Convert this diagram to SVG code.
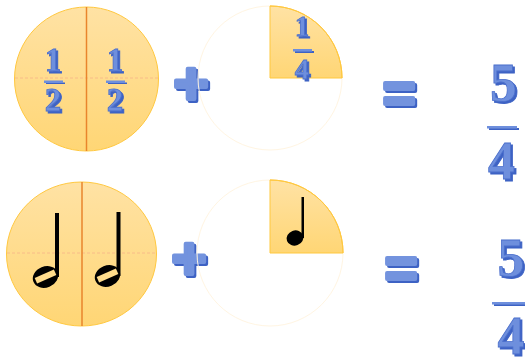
<svg xmlns="http://www.w3.org/2000/svg" width="525" height="360" viewBox="0 0 525 360">
<defs>
<linearGradient id="og" x1="0" y1="0" x2="0" y2="1">
<stop offset="0" stop-color="#FFE2A4"/>
<stop offset="1" stop-color="#FFD675"/>
</linearGradient>
<filter id="shadow" x="-20%" y="-20%" width="150%" height="150%">
<feOffset in="SourceAlpha" dx="1.8" dy="1.8" result="o"/>
<feFlood flood-color="#3D62C4"/>
<feComposite in2="o" operator="in" result="s"/>
<feMerge><feMergeNode in="s"/><feMergeNode in="SourceGraphic"/></feMerge>
</filter>
<style>
.disk{fill:url(#og);stroke:#FFC83F;stroke-width:1}
.faint{fill:none;stroke:#FFF5E2;stroke-width:1}
.vline{stroke:#E9852C;stroke-width:1.5}
.hline{stroke:#F6B489;stroke-width:0.8;stroke-dasharray:3 2}
.num{font-family:"Liberation Serif",serif;font-weight:bold;text-anchor:middle;fill:#6E8FDD;stroke:#4B6FCC;stroke-width:0.8;filter:url(#shadow)}
.op{font-family:"Liberation Sans",sans-serif;font-weight:bold;text-anchor:middle;fill:#7393DE;stroke:#7393DE;stroke-width:4;stroke-linejoin:round;filter:url(#shadow)}
.bar{fill:#6E8FDD;filter:url(#shadow)}
.ink{fill:#000}
</style>
</defs>
<rect width="525" height="360" fill="#fff"/>

<g id="half-circle-top">
<circle class="disk" cx="86.5" cy="79" r="72"/>
<line class="hline" x1="15" y1="78" x2="158" y2="78"/>
<line class="vline" x1="86.5" y1="7" x2="86.5" y2="151"/>
<text class="num" x="53" y="70.5" font-size="33">1</text>
<rect class="bar" x="44" y="80.5" width="19" height="2.5"/>
<text class="num" x="53" y="110.5" font-size="33">2</text>
<text class="num" x="115" y="70.5" font-size="33">1</text>
<rect class="bar" x="106" y="80.5" width="19" height="2.5"/>
<text class="num" x="115" y="110.5" font-size="33">2</text>
</g>

<g id="plus-top">
<text class="op" x="191" y="104" font-size="60">+</text>
</g>

<g id="quarter-top">
<circle class="faint" cx="270" cy="78" r="72"/>
<path class="disk" d="M270,78 L270,6 A72,72 0 0 1 342,78 Z" stroke="none"/>
<path d="M270,6 A72,72 0 0 1 342,78" fill="none" stroke="#FFC83F" stroke-width="1"/>
<text class="num" x="302" y="36" font-size="29">1</text>
<rect class="bar" x="293" y="49" width="19" height="2.5"/>
<text class="num" x="302" y="79" font-size="29">4</text>
</g>

<g id="equals-top">
<text class="op" x="399" y="112" font-size="56">=</text>
</g>

<g id="result-top">
<text class="num" x="503.5" y="100.5" font-size="54">5</text>
<rect class="bar" x="487" y="126" width="30" height="2.5"/>
<text class="num" x="501.5" y="178.5" font-size="54">4</text>
</g>

<g id="half-notes">
<ellipse class="disk" cx="81.5" cy="254" rx="75" ry="72"/>
<line class="hline" x1="7" y1="253" x2="156" y2="253"/>
<line class="vline" x1="82" y1="182" x2="82" y2="326"/>
<g id="note1">
<rect class="ink" x="55" y="213" width="4" height="64"/>
<ellipse class="ink" cx="45.5" cy="277" rx="13" ry="10.5" transform="rotate(-22 45.5 277)"/>
<rect x="35" y="273.5" width="21" height="6" fill="#FFDC8C" transform="rotate(-24 45.5 276.5)"/>
</g>
<g id="note2">
<rect class="ink" x="116.5" y="212" width="4" height="64"/>
<ellipse class="ink" cx="107.5" cy="276" rx="13" ry="10.5" transform="rotate(-22 107.5 276)"/>
<rect x="97" y="272.5" width="21" height="6" fill="#FFDC8C" transform="rotate(-24 107.5 275.5)"/>
</g>
</g>

<g id="plus-bottom">
<text class="op" x="189" y="279" font-size="60">+</text>
</g>

<g id="quarter-bottom">
<circle class="faint" cx="270" cy="253" r="73"/>
<path class="disk" d="M270,253 L270,180 A73,73 0 0 1 343,253 Z" stroke="none"/>
<path d="M270,180 A73,73 0 0 1 343,253" fill="none" stroke="#FFC83F" stroke-width="1"/>
<rect class="ink" x="301.5" y="197" width="2.5" height="41"/>
<ellipse class="ink" cx="295" cy="238" rx="8.5" ry="7.5" transform="rotate(-20 295 238)"/>
</g>

<g id="equals-bottom">
<text class="op" x="401" y="287" font-size="56">=</text>
</g>

<g id="result-bottom">
<text class="num" x="511" y="275.5" font-size="54">5</text>
<rect class="bar" x="492" y="302" width="33" height="2.5"/>
<text class="num" x="511" y="353.5" font-size="54">4</text>
</g>
</svg>
